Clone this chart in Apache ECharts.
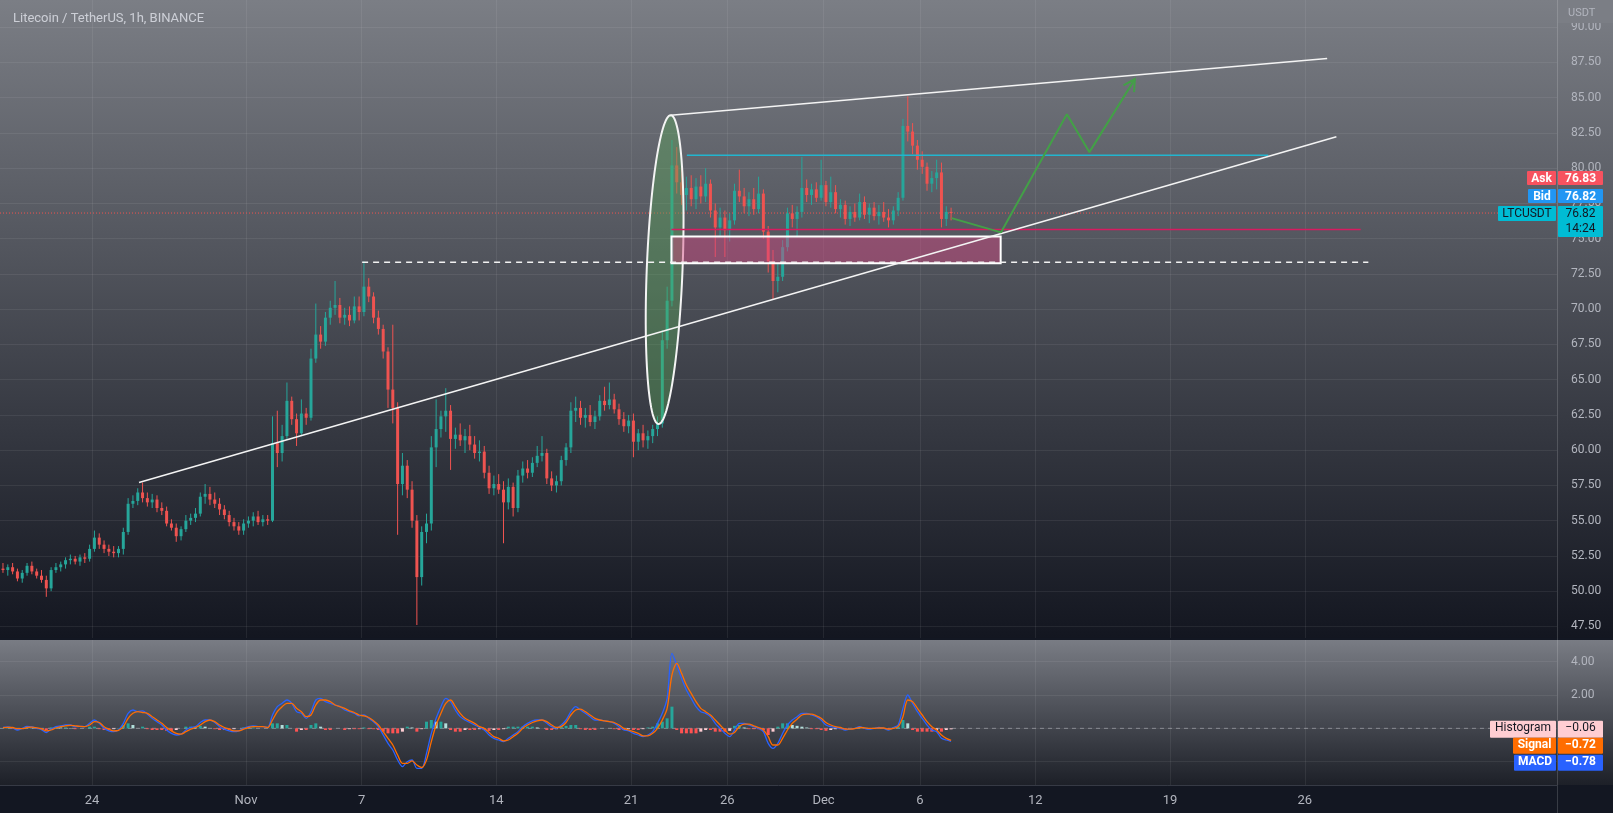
<!DOCTYPE html>
<html><head><meta charset="utf-8">
<script src="https://cdn.jsdelivr.net/npm/echarts@6.0.0/dist/echarts.min.js"></script>
<style>
html,body{margin:0;padding:0;width:1613px;height:813px;overflow:hidden;background:#131722}
#bgMain{position:absolute;left:0;top:0;width:1613px;height:638px;background:linear-gradient(#7b7e85,#131620)}
#bgMacd{position:absolute;left:0;top:640px;width:1613px;height:145px;background:linear-gradient(#797c84,#1d2028)}
#scaleLine{position:absolute;left:1557px;top:0;width:1px;height:813px;background:rgba(255,255,255,0.16)}
#chart{position:absolute;left:0;top:0;width:1613px;height:813px}
</style></head>
<body>
<div id="bgMain"></div><div id="bgMacd"></div><div id="scaleLine"></div>
<div id="chart"></div>
<script>
// ---------- data (days counted from 24 Oct 00:00) ----------
const tickDays = [0, 8, 14, 21, 28, 33, 38, 43, 49, 56, 63];
const tickLabels = ['24', 'Nov', '7', '14', '21', '26', 'Dec', '6', '12', '19', '26'];
const priceTicks = [47.5, 50, 52.5, 55, 57.5, 60, 62.5, 65, 67.5, 70, 72.5, 75, 77.5, 80, 82.5, 85, 87.5, 90];
const macdTicks = [-2, 0, 2, 4];
const candleStart = -4.75;   // 19 Oct 06:00
const candleStep = 0.25;     // 6 hours per candle
// [open, high, low, close]
const candles = [
 [51.6,52.0,51.3,51.5],[51.5,51.9,51.1,51.7],[51.7,52.0,51.2,51.4],
 [51.4,51.6,50.7,50.9],[50.9,51.5,50.6,51.3],[51.3,52.0,51.1,51.8],[51.8,52.1,51.2,51.4],
 [51.4,51.6,50.9,51.1],[51.1,51.5,50.6,50.8],[50.8,51.1,49.6,50.2],[50.2,51.7,50.0,51.5],
 [51.5,52.0,51.3,51.7],[51.7,52.1,51.4,51.9],[51.9,52.4,51.6,52.2],[52.2,52.6,51.9,52.3],
 [52.3,52.5,51.9,52.1],[52.1,52.6,51.8,52.4],[52.4,52.7,52.0,52.3],[52.3,53.3,52.1,53.0],
 [53.0,54.3,52.8,53.8],[53.8,54.1,53.0,53.3],[53.3,53.6,52.7,53.0],[53.0,53.3,52.5,52.8],
 [52.8,53.2,52.4,52.7],[52.7,53.2,52.4,53.0],[53.0,54.5,52.6,54.2],[54.2,56.6,54.0,56.2],
 [56.2,56.8,55.9,56.4],[56.4,57.3,56.1,57.0],[57.0,57.7,56.3,56.6],[56.6,57.0,56.0,56.3],
 [56.3,56.9,55.9,56.5],[56.5,56.8,55.6,55.9],[55.9,56.3,55.4,55.7],[55.7,56.0,54.6,54.8],
 [54.8,55.1,54.3,54.5],[54.5,54.8,53.5,53.9],[53.9,54.6,53.6,54.4],[54.4,55.4,54.2,55.0],
 [55.0,55.5,54.7,55.2],[55.2,55.9,54.9,55.5],[55.5,57.0,55.3,56.7],[56.7,57.6,56.2,56.9],
 [56.9,57.4,56.1,56.5],[56.5,57.0,55.9,56.2],[56.2,56.6,55.4,55.8],[55.8,56.1,55.1,55.4],
 [55.4,55.7,54.6,54.9],[54.9,55.2,54.3,54.6],[54.6,54.9,54.0,54.3],[54.3,55.1,54.0,54.8],
 [54.8,55.3,54.5,55.0],[55.0,55.6,54.6,55.3],[55.3,55.7,54.7,54.9],[54.9,55.4,54.6,55.1],
 [55.1,55.4,54.7,55.0],[55.0,62.4,54.9,60.5],[60.5,62.8,58.8,59.8],[59.8,61.8,59.2,61.0],
 [61.0,64.8,60.8,63.5],[63.5,63.8,61.8,62.2],[62.2,62.6,60.3,61.2],[61.2,63.6,61.0,62.6],
 [62.6,63.0,61.8,62.3],[62.3,67.2,62.1,66.5],[66.5,70.4,66.2,68.2],[68.2,68.8,67.2,67.7],
 [67.7,69.8,67.4,69.4],[69.4,70.6,68.9,70.1],[70.1,72.0,69.6,70.3],[70.3,70.8,69.0,69.4],
 [69.4,70.1,68.9,69.6],[69.6,70.2,68.8,69.2],[69.2,70.9,69.0,70.2],[70.2,70.9,69.2,69.8],
 [69.8,73.4,69.5,71.6],[71.6,72.2,70.5,70.9],[70.9,71.2,69.0,69.4],[69.4,69.9,68.2,68.6],
 [68.6,68.9,66.5,67.0],[67.0,67.3,63.0,64.3],[64.3,68.9,61.9,63.0],[63.0,63.4,54.0,57.6],
 [57.6,59.8,56.8,58.9],[58.9,59.3,56.6,57.2],[57.2,57.8,54.5,55.0],[55.0,55.4,47.6,51.0],
 [51.0,54.6,50.4,54.2],[54.2,55.5,53.4,54.8],[54.8,61.0,54.3,60.2],[60.2,63.6,58.8,61.5],
 [61.5,62.8,60.9,62.4],[62.4,64.4,61.3,62.8],[62.8,63.2,58.6,60.8],[60.8,61.6,60.1,61.1],
 [61.1,61.9,60.3,60.7],[60.7,61.5,59.8,61.0],[61.0,61.8,60.0,60.4],[60.4,61.0,59.4,59.8],
 [59.8,60.7,59.2,59.9],[59.9,60.3,58.0,58.4],[58.4,58.9,56.9,57.3],[57.3,58.2,56.8,57.6],
 [57.6,58.3,56.9,57.2],[57.2,57.8,53.4,56.3],[56.3,58.0,55.8,57.4],[57.4,57.7,55.3,55.9],
 [55.9,58.6,55.6,58.2],[58.2,59.2,57.7,58.7],[58.7,59.3,58.0,58.4],[58.4,59.5,58.1,59.1],
 [59.1,60.3,58.8,59.6],[59.6,61.0,59.2,59.8],[59.8,60.1,57.6,58.0],[58.0,58.5,57.1,57.5],
 [57.5,58.2,57.0,57.8],[57.8,59.6,57.5,59.3],[59.3,60.5,58.9,60.2],[60.2,63.4,59.8,62.8],
 [62.8,63.8,62.0,63.0],[63.0,63.5,61.8,62.3],[62.3,63.0,61.6,62.5],[62.5,63.2,61.7,62.0],
 [62.0,62.8,61.5,62.4],[62.4,63.9,62.1,63.5],[63.5,64.5,62.8,63.2],[63.2,64.8,62.9,63.6],
 [63.6,64.0,62.6,62.9],[62.9,63.3,61.8,62.2],[62.2,62.7,61.3,61.7],[61.7,62.5,61.2,62.1],
 [62.1,62.6,59.5,60.6],[60.6,61.5,60.0,61.2],[61.2,61.8,60.2,60.7],[60.7,61.4,60.1,61.0],
 [61.0,61.8,60.5,61.5],[61.5,62.4,61.0,61.9],[61.9,68.5,61.6,67.8],[67.8,71.6,67.2,70.6],
 [70.6,82.0,70.2,80.2],[80.2,81.5,78.2,79.0],[79.0,80.3,77.4,78.1],[78.1,79.4,77.0,78.6],
 [78.6,79.5,77.3,77.8],[77.8,79.3,77.1,78.7],[78.7,79.5,77.5,78.0],[78.0,80.0,77.6,78.9],
 [78.9,79.2,76.5,77.0],[77.0,77.5,73.7,75.8],[75.8,77.2,75.2,76.5],[76.5,77.0,73.7,75.6],
 [75.6,76.8,74.8,76.3],[76.3,78.9,76.0,78.4],[78.4,79.9,77.6,78.0],[78.0,78.6,76.8,77.3],
 [77.3,78.3,76.6,77.8],[77.8,78.6,76.7,77.1],[77.1,79.4,76.8,78.2],[78.2,78.5,75.0,75.5],
 [75.5,75.9,72.6,73.4],[73.4,74.2,70.7,72.0],[72.0,73.2,71.2,72.3],[72.3,74.9,72.0,74.4],
 [74.4,77.2,74.1,76.8],[76.8,77.4,75.8,76.4],[76.4,77.3,75.1,76.9],[76.9,80.8,76.5,78.6],
 [78.6,79.2,77.6,78.1],[78.1,78.9,77.4,78.5],[78.5,79.0,77.6,77.9],[77.9,80.6,77.7,78.8],
 [78.8,79.1,77.3,77.6],[77.6,79.4,77.2,78.3],[78.3,78.8,76.8,77.1],[77.1,77.8,76.5,77.4],
 [77.4,77.7,76.0,76.4],[76.4,77.3,75.9,76.9],[76.9,77.5,76.2,76.5],[76.5,78.2,76.3,77.6],
 [77.6,78.0,76.4,76.7],[76.7,77.5,76.1,77.2],[77.2,77.6,76.3,76.6],[76.6,77.4,76.0,76.9],
 [76.9,77.6,76.2,76.5],[76.5,77.1,75.8,76.3],[76.3,77.3,76.0,77.0],[77.0,78.3,76.6,77.9],
 [77.9,83.5,77.7,83.0],[83.0,85.1,81.9,82.6],[82.6,83.2,81.0,81.6],[81.6,82.0,79.9,80.6],
 [80.6,81.2,79.6,80.1],[80.1,80.4,78.4,78.9],[78.9,79.8,78.3,79.3],[79.3,80.6,78.5,79.7],
 [79.7,80.4,75.8,76.4],[76.4,77.3,75.9,76.9],[76.9,77.2,76.3,76.82]
];
const macdLine = [
 0.05,0.08,0.02, -0.1,0.0,0.12,0.08, 0.0,-0.08,-0.25,-0.05, 0.1,0.15,0.2,0.2, 0.1,0.12,0.1,0.3,
 0.5,0.3,0.0,-0.15, -0.2,-0.1,0.3,0.9, 1.1,1.0,1.05,0.85, 0.6,0.4,0.2,-0.1, -0.3,-0.4,-0.35,-0.1,
 0.05,0.1,0.35,0.5, 0.5,0.35,0.1,-0.05, -0.15,-0.2,-0.15,0.0, 0.1,0.15,0.1,0.1, 0.05,0.8,1.3,1.5,
 1.7,1.5,1.0,0.9, 0.6,1.0,1.7,1.8, 1.6,1.5,1.4,1.3, 1.1,1.0,0.9,0.75, 0.8,0.6,0.4,0.1,
 -0.4,-0.9,-1.3,-1.9, -2.3,-2.0,-1.9,-2.4, -2.4,-1.5,-0.3,0.6, 1.3,1.8,1.6,1.1, 0.7,0.5,0.35,0.2,
 0.05,-0.1,-0.4,-0.6, -0.7,-0.8,-0.6,-0.4, -0.2,0.1,0.3,0.45, 0.5,0.5,0.3,0.1, 0.0,0.2,0.5,1.0,
 1.3,1.1,0.9,0.7, 0.5,0.5,0.45,0.4, 0.3,0.1,-0.1,-0.15, -0.3,-0.4,-0.5,-0.4, -0.2,0.3,0.9,1.8,
 4.5,3.8,3.0,2.3, 1.8,1.3,1.0,0.9, 0.7,0.3,0.0,-0.3, -0.5,-0.1,0.3,0.3, 0.2,0.1,0.0,-0.2,
 -0.9,-1.2,-0.9,-0.3, 0.2,0.5,0.7,0.9, 0.9,0.8,0.7,0.5, 0.2,0.1,0.05,0.0, -0.1,-0.05,0.0,0.1,
 0.0,-0.05,0.0,0.05, 0.0,-0.1,0.05,0.2, 1.2,2.0,1.5,1.0, 0.6,0.2,-0.1,-0.2, -0.6,-0.7,-0.78
];
const signalLine = [
 0.04,0.06,0.05, -0.02,-0.02,0.05,0.07, 0.03,-0.03,-0.15,-0.1, 0.02,0.1,0.15,0.18, 0.15,0.12,0.1,0.2,
 0.4,0.35,0.1,-0.05, -0.15,-0.12,0.1,0.6, 0.9,1.0,0.95,0.9, 0.7,0.5,0.3,0.05, -0.15,-0.3,-0.35,-0.2,
 -0.05,0.05,0.2,0.4, 0.5,0.4,0.2,0.05, -0.05,-0.15,-0.15,-0.05, 0.05,0.1,0.1,0.1, 0.05,0.5,1.0,1.3,
 1.5,1.5,1.2,1.0, 0.7,0.8,1.4,1.7, 1.7,1.6,1.4,1.3, 1.2,1.05,0.95,0.8, 0.75,0.65,0.45,0.2,
 -0.2,-0.6,-1.0,-1.6, -2.1,-2.1,-1.95,-2.2, -2.35,-1.9,-0.8,0.2, 0.9,1.5,1.7,1.3, 0.9,0.6,0.45,0.3,
 0.1,0.0,-0.25,-0.5, -0.6,-0.75,-0.7,-0.5, -0.3,0.0,0.2,0.35, 0.45,0.5,0.4,0.2, 0.05,0.1,0.35,0.8,
 1.1,1.15,1.0,0.8, 0.6,0.5,0.45,0.4, 0.35,0.2,0.0,-0.1, -0.2,-0.3,-0.45,-0.45, -0.3,0.0,0.5,1.2,
 3.2,3.9,3.3,2.6, 2.1,1.6,1.2,1.0, 0.8,0.5,0.2,-0.1, -0.35,-0.25,0.1,0.25, 0.25,0.15,0.05,-0.1,
 -0.5,-1.0,-1.0,-0.6, -0.1,0.3,0.55,0.8, 0.85,0.85,0.75,0.6, 0.35,0.2,0.1,0.05, -0.05,-0.05,-0.02,0.05,
 0.03,0.0,0.0,0.02, 0.02,-0.05,0.0,0.1, 0.7,1.7,1.6,1.2, 0.8,0.4,0.1,-0.1, -0.4,-0.6,-0.72
];
const histogram = [
 0.01,0.02,-0.03, -0.08,0.02,0.07,0.01, -0.03,-0.05,-0.1,0.05, 0.08,0.05,0.05,0.02, -0.05,0.0,0.0,0.1,
 0.1,-0.05,-0.1,-0.1, -0.05,0.02,0.2,0.3, 0.2,0.0,0.1,-0.05, -0.1,-0.1,-0.1,-0.15, -0.15,-0.1,0.0,0.1,
 0.1,0.05,0.15,0.1, 0.0,-0.05,-0.1,-0.1, -0.1,-0.05,0.0,0.05, 0.05,0.05,0.0,0.0, 0.0,0.3,0.3,0.2,
 0.2,0.0,-0.2,-0.1, -0.1,0.2,0.3,0.1, -0.1,-0.1,0.0,0.0, -0.1,-0.05,-0.05,-0.05, 0.05,-0.05,-0.05,-0.1,
 -0.2,-0.3,-0.3,-0.3, -0.2,0.1,0.05,-0.2, -0.05,0.4,0.5,0.4, 0.4,0.3,-0.1,-0.2, -0.2,-0.1,-0.1,-0.1,
 -0.05,-0.1,-0.15,-0.1, -0.1,-0.05,0.1,0.1, 0.1,0.1,0.1,0.1, 0.05,0.0,-0.1,-0.1, -0.05,0.1,0.15,0.2,
 0.2,-0.05,-0.1,-0.1, -0.1,0.0,0.0,0.0, -0.05,-0.1,-0.1,-0.05, -0.1,-0.1,-0.05,0.05, 0.1,0.3,0.4,0.6,
 1.3,-0.1,-0.3,-0.3, -0.3,-0.3,-0.2,-0.1, -0.1,-0.2,-0.2,-0.2, -0.15,0.15,0.2,0.05, -0.05,-0.05,-0.05,-0.1,
 -0.4,-0.2,0.1,0.3, 0.3,0.2,0.15,0.1, 0.05,-0.05,-0.05,-0.1, -0.15,-0.1,-0.05,-0.05, -0.05,0.0,0.02,0.05,
 -0.03,-0.05,0.0,0.03, -0.02,-0.05,0.05,0.1, 0.5,0.3,-0.1,-0.2, -0.2,-0.2,-0.2,-0.1, -0.2,-0.1,-0.06
];
// drawings: [day, price]
const upperTrend = [[30.06, 83.76], [64.16, 87.78]];
const lowerTrend = [[2.44, 57.71], [64.64, 82.23]];
const dashedLevel = [[14.03, 73.33], [66.3, 73.33]];
const cyanLevel = [[30.9, 80.92], [61.1, 80.92]];
const crimsonLevel = [[30.1, 75.65], [65.9, 75.65]];
const demandBox = [[30.1, 75.15], [47.2, 73.26]];
const projection = [[44.65, 76.46], [47.22, 75.45], [50.64, 83.83], [51.81, 81.14], [54.17, 86.32]];
const ellipseTop = [30.06, 83.76];
const ellipseBottom = [29.43, 61.86];
const ellipseHalfWidth = 0.93;
const askPrice = 76.83, bidPrice = 76.82, countdown = '14:24';

// ---------- chart ----------
const xMin = -4.78, xMax = 76.1;
const UP = '#26a69a', DOWN = '#ef5350';
const gridColor = 'rgba(235,238,245,0.075)';
const labelColor = '#b2b5be';
const FONT = 'Roboto, "Noto Sans", sans-serif';
const slotX = i => candleStart + (i + 0.5) * candleStep;
const lastClose = candles[candles.length - 1][3];

const chart = echarts.init(document.getElementById('chart'), null, {renderer: 'canvas'});

function seg(pts, color, width, type, ai, z) {
  return {type: 'line', xAxisIndex: ai, yAxisIndex: ai, data: pts, symbol: 'none', silent: true,
    lineStyle: {color: color, width: width, type: type || 'solid'}, z: z || 5, animation: false};
}

const histColors = histogram.map((v, i) => {
  const p = i > 0 ? histogram[i - 1] : 0;
  if (v >= 0) return v >= p ? '#26a69a' : '#b2dfdb';
  return v <= p ? '#ff5252' : '#ffcdd2';
});

const option = {
  animation: false,
  title: {text: 'Litecoin / TetherUS, 1h, BINANCE', left: 8, top: 7,
    textStyle: {color: 'rgba(225,228,235,0.8)', fontSize: 13, fontWeight: 'normal', fontFamily: FONT}},
  grid: [
    {left: 0, top: 0, width: 1557, height: 638},
    {left: 0, top: 640, width: 1557, height: 145}
  ],
  xAxis: [
    {type: 'value', gridIndex: 0, min: xMin, max: xMax, axisLine: {show: false},
     axisTick: {show: false, customValues: tickDays}, axisLabel: {show: false, customValues: tickDays},
     splitLine: {show: true, lineStyle: {color: gridColor}}},
    {type: 'value', gridIndex: 1, min: xMin, max: xMax,
     axisLine: {show: true, onZero: false, lineStyle: {color: '#363a45'}},
     axisTick: {show: false, customValues: tickDays},
     axisLabel: {customValues: tickDays, color: labelColor, fontSize: 13, margin: 9, fontFamily: FONT,
       formatter: v => { const i = tickDays.indexOf(Math.round(v)); return i >= 0 ? tickLabels[i] : ''; }},
     splitLine: {show: true, lineStyle: {color: gridColor}}}
  ],
  yAxis: [
    {type: 'value', gridIndex: 0, position: 'right', min: 46.68, max: 91.93, axisLine: {show: false},
     axisTick: {show: false, customValues: priceTicks},
     axisLabel: {customValues: priceTicks, color: labelColor, fontSize: 12, margin: 14, fontFamily: FONT,
       formatter: v => v.toFixed(2)},
     splitLine: {show: true, lineStyle: {color: gridColor}}},
    {type: 'value', gridIndex: 1, position: 'right', min: -3.4, max: 5.3, axisLine: {show: false},
     axisTick: {show: false, customValues: macdTicks},
     axisLabel: {customValues: macdTicks, color: labelColor, fontSize: 12, margin: 14, fontFamily: FONT,
       formatter: v => v.toFixed(2)},
     splitLine: {show: true, lineStyle: {color: gridColor}}}
  ],
  series: [
    // current price dotted line
    seg([[xMin, lastClose], [xMax, lastClose]], '#ef5350', 1, [1, 2], 0, 2),
    // candles
    {type: 'custom', xAxisIndex: 0, yAxisIndex: 0, z: 3, clip: true,
     data: candles.map((k, i) => [slotX(i), k[0], k[1], k[2], k[3]]),
     encode: {x: 0, y: [1, 2, 3, 4]},
     renderItem: function (params, api) {
       const x = api.value(0), o = api.value(1), h = api.value(2), l = api.value(3), c = api.value(4);
       const pH = api.coord([x, h]), pL = api.coord([x, l]), pO = api.coord([x, o]), pC = api.coord([x, c]);
       const w = Math.max(1, api.size([candleStep, 0])[0] * 0.62);
       const col = c >= o ? UP : DOWN;
       const top = Math.min(pO[1], pC[1]);
       const hg = Math.max(1, Math.abs(pO[1] - pC[1]));
       return {type: 'group', children: [
         {type: 'line', shape: {x1: pH[0], y1: pH[1], x2: pL[0], y2: pL[1]}, style: {stroke: col, lineWidth: 1}},
         {type: 'rect', shape: {x: pO[0] - w / 2, y: top, width: w, height: hg}, style: {fill: col}}
       ]};
     }},
    // ellipse highlight
    {type: 'custom', xAxisIndex: 0, yAxisIndex: 0, z: 6, data: [[ellipseTop[0], ellipseTop[1]]],
     renderItem: function (params, api) {
       const cx = (ellipseTop[0] + ellipseBottom[0]) / 2, cy = (ellipseTop[1] + ellipseBottom[1]) / 2;
       const vx = (ellipseTop[0] - ellipseBottom[0]) / 2, vy = (ellipseTop[1] - ellipseBottom[1]) / 2;
       const pts = [];
       for (let k = 0; k < 120; k++) {
         const t = k / 120 * Math.PI * 2;
         pts.push(api.coord([cx + ellipseHalfWidth * Math.cos(t) + vx * Math.sin(t), cy + vy * Math.sin(t)]));
       }
       return {type: 'polygon', shape: {points: pts},
         style: {fill: 'rgba(90,170,90,0.38)', stroke: '#f4f4f4', lineWidth: 2}};
     }},
    // demand box
    {type: 'custom', xAxisIndex: 0, yAxisIndex: 0, z: 6, data: [[demandBox[0][0], demandBox[0][1]]],
     renderItem: function (params, api) {
       const a = api.coord(demandBox[0]), b = api.coord(demandBox[1]);
       return {type: 'rect', shape: {x: Math.min(a[0], b[0]), y: Math.min(a[1], b[1]),
         width: Math.abs(b[0] - a[0]), height: Math.abs(b[1] - a[1])},
         style: {fill: 'rgba(214,70,130,0.45)', stroke: '#ffffff', lineWidth: 2}};
     }},
    seg(crimsonLevel, '#d81b60', 1.5, 'solid', 0, 7),
    seg(dashedLevel, '#f2f2f2', 1.5, [6, 5], 0, 7),
    seg(cyanLevel, '#22b5cf', 1.5, 'solid', 0, 7),
    seg(upperTrend, '#f4f4f4', 1.5, 'solid', 0, 7),
    seg(lowerTrend, '#f4f4f4', 1.5, 'solid', 0, 7),
    seg(projection, '#43a047', 2, 'solid', 0, 8),
    // arrow head
    {type: 'custom', xAxisIndex: 0, yAxisIndex: 0, z: 8, data: [projection[projection.length - 1]],
     renderItem: function (params, api) {
       const tip = api.coord(projection[projection.length - 1]);
       const prev = api.coord(projection[projection.length - 2]);
       const dx = tip[0] - prev[0], dy = tip[1] - prev[1], len = Math.hypot(dx, dy);
       const ux = dx / len, uy = dy / len, L = 13, ang = 0.5;
       const w1 = [tip[0] - L * (ux * Math.cos(ang) - uy * Math.sin(ang)), tip[1] - L * (ux * Math.sin(ang) + uy * Math.cos(ang))];
       const w2 = [tip[0] - L * (ux * Math.cos(-ang) - uy * Math.sin(-ang)), tip[1] - L * (ux * Math.sin(-ang) + uy * Math.cos(-ang))];
       return {type: 'polyline', shape: {points: [w1, tip, w2]}, style: {stroke: '#43a047', lineWidth: 2, fill: null}};
     }},
    // MACD pane
    seg([[xMin, 0], [xMax, 0]], 'rgba(210,213,220,0.45)', 1, [4, 4], 1, 2),
    {type: 'bar', xAxisIndex: 1, yAxisIndex: 1, barWidth: 3, z: 3, silent: true,
     data: histogram.map((v, i) => ({value: [slotX(i), v], itemStyle: {color: histColors[i]}}))},
    {type: 'line', xAxisIndex: 1, yAxisIndex: 1, symbol: 'none', silent: true, smooth: 0.3, z: 4,
     data: macdLine.map((v, i) => [slotX(i), v]), lineStyle: {color: '#2962ff', width: 1.3}},
    {type: 'line', xAxisIndex: 1, yAxisIndex: 1, symbol: 'none', silent: true, smooth: 0.3, z: 5,
     data: signalLine.map((v, i) => [slotX(i), v]), lineStyle: {color: '#ff6d00', width: 1.3}}
  ]
};
chart.setOption(option);

// ---------- price-scale badges ----------
function badge(x, y, w, h, fill, lines, color, bold) {
  const out = [{type: 'rect', z: 200, zlevel: 1, shape: {x: x, y: y, width: w, height: h, r: 1}, style: {fill: fill}}];
  lines.forEach((t, i) => out.push({type: 'text', z: 201, zlevel: 1, x: x + w / 2, y: y + 7.5 + i * 15,
    style: {text: t, fill: color, font: (bold ? 'bold ' : '') + '12px ' + FONT, align: 'center', verticalAlign: 'middle'}}));
  return out;
}
const fmt = v => (v < 0 ? '\u2212' : '') + Math.abs(v).toFixed(2);
const yP = chart.convertToPixel({yAxisIndex: 0}, lastClose);
const hLast = histogram[histogram.length - 1];
const sLast = signalLine[signalLine.length - 1];
const mLast = macdLine[macdLine.length - 1];
const yHist = chart.convertToPixel({yAxisIndex: 1}, hLast);
const graphics = [].concat(
  [{type: 'rect', z: 190, zlevel: 1, shape: {x: 1558, y: 0, width: 55, height: 23}, style: {fill: '#7b7e85'}},
   {type: 'text', z: 191, zlevel: 1, x: 1568, y: 13, style: {text: 'USDT', fill: labelColor, font: '11px ' + FONT, verticalAlign: 'middle'}}],
  badge(1527, yP - 42, 29, 14, '#f7525f', ['Ask'], '#ffffff', true),
  badge(1558, yP - 42, 45, 14, '#f7525f', [askPrice.toFixed(2)], '#ffffff', true),
  badge(1528, yP - 24, 28, 14, '#2196f3', ['Bid'], '#ffffff', true),
  badge(1558, yP - 24, 45, 14, '#2196f3', [bidPrice.toFixed(2)], '#ffffff', true),
  badge(1498, yP - 7, 58, 15, '#00bcd4', ['LTCUSDT'], '#131722', false),
  badge(1558, yP - 7, 45, 31, '#00bcd4', [lastClose.toFixed(2), countdown], '#131722', false),
  badge(1490, yHist - 8.5, 66, 17, '#ffcdd2', ['Histogram'], '#131722', false),
  badge(1558, yHist - 8.5, 45, 17, '#ffcdd2', [fmt(hLast)], '#131722', false),
  badge(1513, yHist + 8.5, 43, 16, '#ff6d00', ['Signal'], '#ffffff', true),
  badge(1558, yHist + 8.5, 45, 16, '#ff6d00', [fmt(sLast)], '#ffffff', true),
  badge(1514, yHist + 25.5, 42, 16, '#2962ff', ['MACD'], '#ffffff', true),
  badge(1558, yHist + 25.5, 45, 16, '#2962ff', [fmt(mLast)], '#ffffff', true)
);
chart.setOption({graphic: graphics});
</script>
</body></html>
